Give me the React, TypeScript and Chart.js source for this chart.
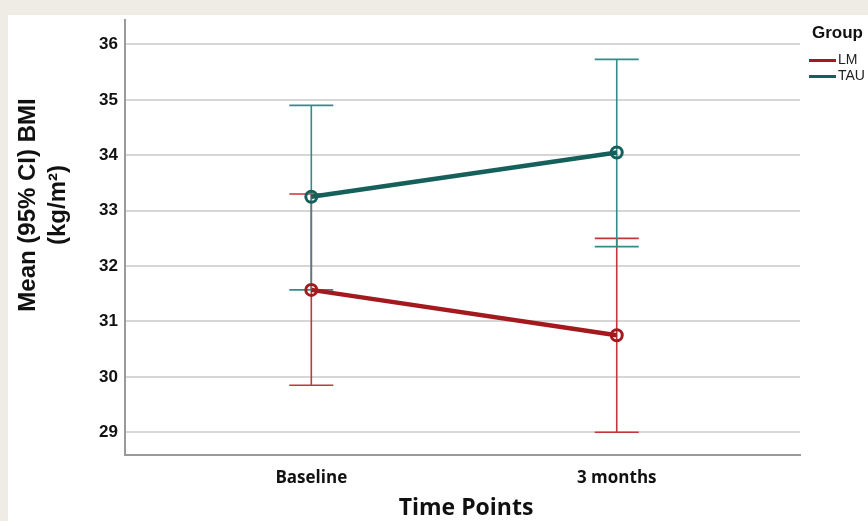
import React, { useEffect, useRef } from "react";
import { Chart, registerables } from "chart.js";

Chart.register(...registerables);

const timePoints = ["Baseline", "3 months"];
const groups = ["LM", "TAU"];
const lmMean = [31.57, 30.75];
const lmLower = [29.85, 29.0];
const lmUpper = [33.3, 32.5];
const tauMean = [33.25, 34.05];
const tauLower = [31.57, 32.35];
const tauUpper = [34.9, 35.73];
const yTicks = [29, 30, 31, 32, 33, 34, 35, 36];
const yTitleLines = ["Mean (95% CI) BMI", "(kg/m\u00B2)"];
const xTitle = "Time Points";
const legendTitle = "Group";

const lineColors = ["#A3191D", "#15605B"];
const barColors = ["#C2373B", "#338C87"];

const errorBarPlugin = {
  id: "errorBars",
  beforeDatasetsDraw(chart: any) {
    const { ctx, scales } = chart;
    const x = scales.x;
    const y = scales.y;
    const sets: [number[], number[], string][] = [
      [lmLower, lmUpper, barColors[0]],
      [tauLower, tauUpper, barColors[1]],
    ];
    ctx.save();
    sets.forEach(([lo, hi, c]) => {
      ctx.strokeStyle = c;
      ctx.lineWidth = 1.6;
      lo.forEach((l, i) => {
        const px = x.getPixelForValue(i);
        const pl = y.getPixelForValue(l);
        const ph = y.getPixelForValue(hi[i]);
        ctx.beginPath();
        ctx.moveTo(px, pl);
        ctx.lineTo(px, ph);
        ctx.moveTo(px - 22, pl);
        ctx.lineTo(px + 22, pl);
        ctx.moveTo(px - 22, ph);
        ctx.lineTo(px + 22, ph);
        ctx.stroke();
      });
    });
    ctx.restore();
  },
};

const textPlugin = {
  id: "texts",
  afterDraw(chart: any) {
    const { ctx, chartArea } = chart;
    ctx.save();
    ctx.fillStyle = "#111";
    ctx.font = "bold 24px 'Liberation Sans', Arial, sans-serif";
    ctx.textAlign = "center";
    ctx.textBaseline = "middle";
    ctx.translate(20, 194);
    ctx.rotate(-Math.PI / 2);
    yTitleLines.forEach((t, i) => ctx.fillText(t, 0, i * 30));
    ctx.restore();

    ctx.save();
    ctx.fillStyle = "#111";
    ctx.font = "bold 23px 'Open Sans', sans-serif";
    ctx.textAlign = "center";
    ctx.textBaseline = "middle";
    ctx.fillText(xTitle, 458, 497);
    ctx.restore();

    // legend
    ctx.save();
    const lx = chartArea.right + 9;
    ctx.fillStyle = "#111";
    ctx.font = "bold 17px 'Liberation Sans', Arial, sans-serif";
    ctx.textAlign = "left";
    ctx.textBaseline = "middle";
    ctx.fillText(legendTitle, lx + 3, 22);
    groups.forEach((g, i) => {
      const yy = 49.5 + i * 16;
      ctx.strokeStyle = lineColors[i];
      ctx.lineWidth = 3;
      ctx.beginPath();
      ctx.moveTo(lx, yy);
      ctx.lineTo(lx + 27, yy);
      ctx.stroke();
      ctx.fillStyle = "#222";
      ctx.font = "14px 'Liberation Sans', Arial, sans-serif";
      ctx.fillText(g, lx + 29, yy);
    });
    ctx.restore();
  },
};

export default function App() {
  const ref = useRef<HTMLCanvasElement | null>(null);
  useEffect(() => {
    if (!ref.current) return;
    const chart = new Chart(ref.current, {
      type: "line",
      data: {
        datasets: [
          {
            label: groups[0],
            data: lmMean.map((v, i) => ({ x: i, y: v })),
            borderColor: lineColors[0],
            borderWidth: 4.5,
            pointRadius: 5.5,
            pointBorderWidth: 3,
            pointBorderColor: lineColors[0],
            pointBackgroundColor: "rgba(255,255,255,0)",
          },
          {
            label: groups[1],
            data: tauMean.map((v, i) => ({ x: i, y: v })),
            borderColor: lineColors[1],
            borderWidth: 4.5,
            pointRadius: 5.5,
            pointBorderWidth: 3,
            pointBorderColor: lineColors[1],
            pointBackgroundColor: "rgba(255,255,255,0)",
          },
        ],
      },
      options: {
        animation: false,
        responsive: false,
        layout: { padding: { left: 0, top: 3, right: 68, bottom: 0 } },
        plugins: { legend: { display: false }, tooltip: { enabled: false } },
        scales: {
          x: {
            type: "linear",
            min: -0.61,
            max: 1.6,
            afterBuildTicks: (s: any) => {
              s.ticks = timePoints.map((_, i) => ({ value: i }));
            },
            afterFit: (s: any) => {
              s.height = 66;
              s.paddingLeft = 0;
              s.paddingRight = 0;
            },
            grid: { display: false, drawTicks: false },
            border: { display: true, color: "#9A9A9A", width: 2 },
            ticks: {
              padding: 13,
              color: "#111",
              font: { family: "'Open Sans', sans-serif", size: 17, weight: "bold" },
              callback: (v: any) => timePoints[v] ?? "",
              maxRotation: 0,
            },
          },
          y: {
            type: "linear",
            min: 28.59,
            max: 36.45,
            afterBuildTicks: (s: any) => {
              s.ticks = yTicks.map((v) => ({ value: v }));
            },
            afterFit: (s: any) => {
              s.width = 117;
              s.paddingTop = 0;
              s.paddingBottom = 0;
            },
            grid: { color: "#D6D6D6", lineWidth: 2, drawTicks: false },
            border: { display: true, color: "#9A9A9A", width: 2 },
            ticks: {
              padding: 7,
              color: "#111",
              font: { family: "'Liberation Sans', Arial, sans-serif", size: 17, weight: "bold" },
            },
          },
        },
      },
      plugins: [errorBarPlugin, textPlugin],
    } as any);
    return () => chart.destroy();
  }, []);
  return (
    <div style={{ position: "fixed", left: 0, top: 0, width: 868, height: 521, background: "#EFECE6", overflow: "hidden" }}>
      <div style={{ position: "absolute", left: 8, top: 15, width: 860, height: 506, background: "#FFFFFF", overflow: "hidden" }}>
        <canvas ref={ref} width={860} height={510} style={{ display: "block", position: "absolute", left: 0, top: -4, width: 860, height: 510 }} />
      </div>
    </div>
  );
}
